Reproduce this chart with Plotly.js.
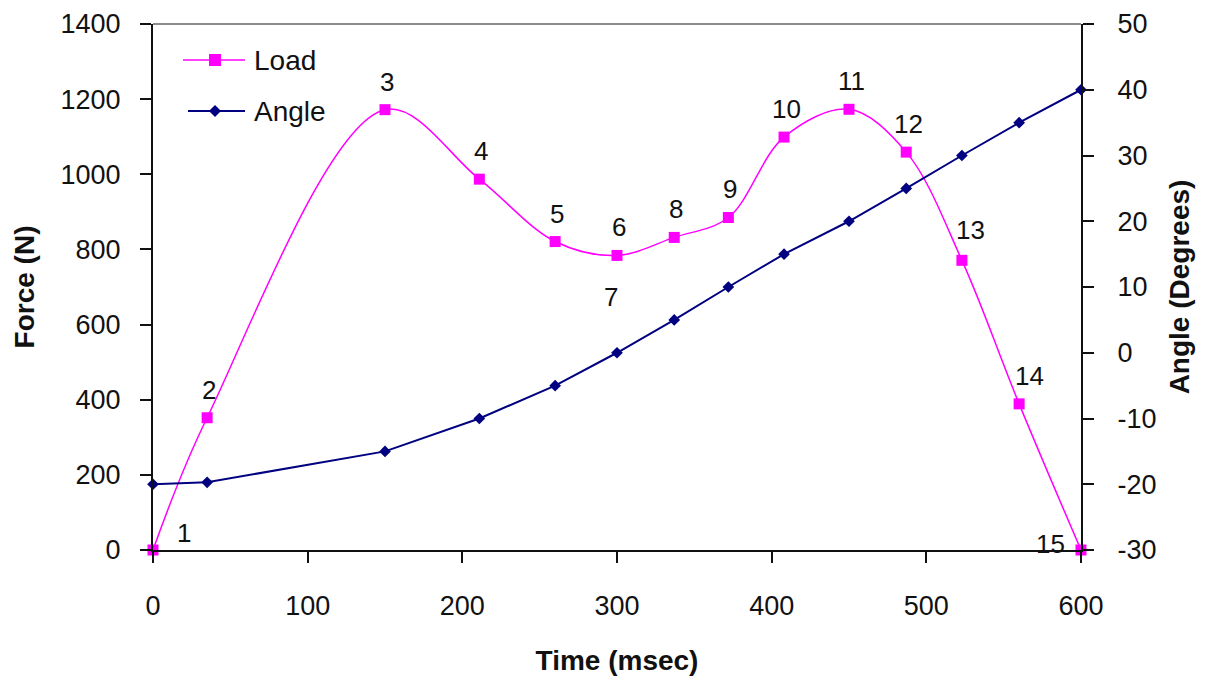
<!DOCTYPE html>
<html><head><meta charset="utf-8">
<script src="https://cdn.plot.ly/plotly-3.0.1.min.js"></script>
<style>html,body{margin:0;padding:0;background:#fff}#chart{width:1207px;height:687px}</style>
</head><body><div id="chart"></div>
<script>
// ---- data ----
const timeMs   = [0, 35, 150, 211, 260, 300, 337, 372, 408, 450, 487, 523, 560, 600];
const loadN    = [0, 352, 1172, 987, 821, 784, 832, 885, 1099, 1173, 1059, 771, 389, 0];
const angleDeg = [-20, -19.7, -15, -10, -5, 0, 5, 10, 15, 20, 25, 30, 35, 40];
const pointLabels = ["1","2","3","4","5","6","8","9","10","11","12","13","14","15"];
const extraLabel = "7";          // drawn below point "6"
const extraLabelIndex = 5;
const seriesNames = ["Load", "Angle"];
const xTicks  = [0, 100, 200, 300, 400, 500, 600];
const yTicks  = [0, 200, 400, 600, 800, 1000, 1200, 1400];
const y2Ticks = [-30, -20, -10, 0, 10, 20, 30, 40, 50];
const y2TickText = ["-30", "-20", "-10", "0", "10", "20", "30", "40", "50"];

// ---- style ----
const LOAD_C = '#ff00ff', ANGLE_C = '#000080', TXT = '#111';
const FONT = 'Liberation Sans, Arial, sans-serif';
const W = 1207, H = 687, L = 153, R = 1081, T = 24, B = 550;
const px = x => (x - L) / (R - L);
const py = y => (B - y) / (B - T);

// label offsets (pixels): default above point
const defOff = [2, 28];
const offOverride = {0: [31, 17], 11: [9, 30], 12: [10, 28], 13: [-31, 6]};

const annotations = pointLabels.map((t, i) => {
  const o = offOverride[i] || defOff;
  return {x: timeMs[i], y: loadN[i], xref: 'x', yref: 'y', text: t, showarrow: false,
          xshift: o[0], yshift: o[1], font: {family: FONT, size: 26, color: TXT}};
});
annotations.push({x: timeMs[extraLabelIndex], y: loadN[extraLabelIndex], xref: 'x', yref: 'y',
  text: extraLabel, showarrow: false, xshift: -6, yshift: -42, font: {family: FONT, size: 26, color: TXT}});

// custom legend
const legY = [60, 111];
seriesNames.forEach((n, i) => {
  annotations.push({x: px(252), y: py(legY[i]), xref: 'paper', yref: 'paper', xanchor: 'left', yanchor: 'middle',
    text: n, showarrow: false, font: {family: FONT, size: 28, color: TXT}});
});
const shapes = [
  {type: 'line', xref: 'paper', yref: 'paper', x0: 0, x1: 1, y0: 1, y1: 1, line: {color: '#8c8c8c', width: 2}},
  {type: 'line', xref: 'paper', yref: 'paper', x0: px(183), x1: px(245), y0: py(legY[0]), y1: py(legY[0]), line: {color: LOAD_C, width: 1.5}},
  {type: 'rect', xref: 'paper', yref: 'paper', xsizemode: 'pixel', ysizemode: 'pixel', xanchor: px(215), yanchor: py(legY[0]),
   x0: -6, x1: 6, y0: -6, y1: 6, fillcolor: LOAD_C, line: {width: 0}},
  {type: 'line', xref: 'paper', yref: 'paper', x0: px(188), x1: px(245), y0: py(legY[1]), y1: py(legY[1]), line: {color: ANGLE_C, width: 2}},
  {type: 'path', xref: 'paper', yref: 'paper', xsizemode: 'pixel', ysizemode: 'pixel', xanchor: px(215), yanchor: py(legY[1]),
   path: 'M-6,0 L0,6 L6,0 L0,-6 Z', fillcolor: ANGLE_C, line: {width: 0}}
];

const traces = [
  {x: timeMs, y: loadN, name: seriesNames[0], type: 'scatter', mode: 'lines+markers',
   line: {color: LOAD_C, width: 1.5, shape: 'spline', smoothing: 1},
   marker: {symbol: 'square', size: 11, color: LOAD_C}, cliponaxis: false},
  {x: timeMs, y: angleDeg, name: seriesNames[1], type: 'scatter', mode: 'lines+markers', yaxis: 'y2',
   line: {color: ANGLE_C, width: 2},
   marker: {symbol: 'diamond', size: 9, color: ANGLE_C}, cliponaxis: false}
];

const axisCommon = {showgrid: false, zeroline: false, showline: true, linecolor: '#111', linewidth: 2,
  ticks: 'outside', ticklen: 11, tickwidth: 2, tickcolor: '#111',
  tickfont: {family: FONT, size: 27, color: TXT}};

const layout = {
  width: W, height: H, paper_bgcolor: '#fff', plot_bgcolor: '#fff', showlegend: false,
  margin: {l: L, r: W - R, t: T, b: H - B, pad: 0},
  xaxis: Object.assign({}, axisCommon, {range: [0, 600], tickvals: xTicks, ticklabelstandoff: 20,
    title: {text: 'Time (msec)', standoff: 30, font: {family: FONT, size: 28, color: TXT, weight: 'bold'}}}),
  yaxis: Object.assign({}, axisCommon, {range: [0, 1400], tickvals: yTicks, ticklabelstandoff: 14,
    title: {text: 'Force (N)', standoff: 18, font: {family: FONT, size: 28, color: TXT, weight: 'bold'}}}),
  yaxis2: Object.assign({}, axisCommon, {range: [-30, 50], tickvals: y2Ticks, ticktext: y2TickText,
    overlaying: 'y', side: 'right', ticklabelstandoff: 18,
    title: {text: 'Angle (Degrees)', standoff: 14, font: {family: FONT, size: 28, color: TXT, weight: 'bold'}}}),
  annotations: annotations, shapes: shapes
};
Plotly.newPlot('chart', traces, layout, {staticPlot: true});
</script></body></html>
